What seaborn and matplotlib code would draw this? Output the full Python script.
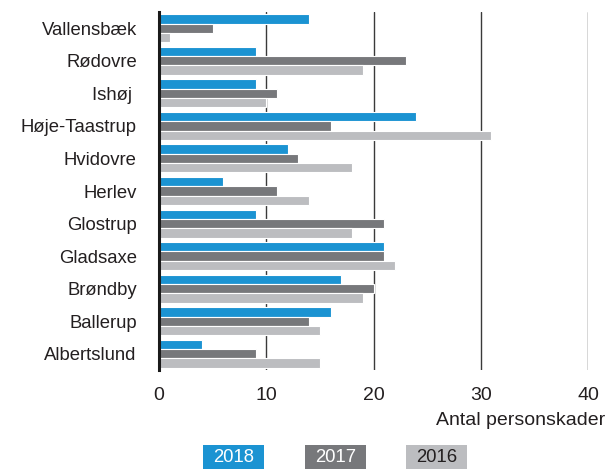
import matplotlib
matplotlib.use("Agg")
import matplotlib.pyplot as plt
import seaborn as sns
import pandas as pd
from matplotlib.patches import Rectangle

municipalities = ["Vallensbæk", "Rødovre", "Ishøj ", "Høje-Taastrup", "Hvidovre", "Herlev",
                  "Glostrup", "Gladsaxe", "Brøndby", "Ballerup", "Albertslund"]
years = ["2018", "2017", "2016"]
v2018 = [14, 9, 9, 24, 12, 6, 9, 21, 17, 16, 4]
v2017 = [5, 23, 11, 16, 13, 11, 21, 21, 20, 14, 9]
v2016 = [1, 19, 10, 31, 18, 14, 18, 22, 19, 15, 15]
colors = ["#1b93d2", "#77787b", "#bcbdc0"]
x_ticks = [0, 10, 20, 30, 40]
x_label = "Antal personskader"

rows = []
for yr, vals in zip(years, [v2018, v2017, v2016]):
    for m, v in zip(municipalities, vals):
        rows.append({"Kommune": m, "År": yr, "Antal": v})
df = pd.DataFrame(rows)

sns.set_theme(style="white")
plt.rcParams["font.family"] = ["Liberation Sans", "DejaVu Sans"]
text_color = "#231f20"

fig = plt.figure(figsize=(6.14, 4.69), dpi=100)
ax = fig.add_axes([159/614, 1 - 370/469, (588 - 159)/614, (370 - 12)/469])

sns.barplot(data=df, y="Kommune", x="Antal", hue="År", order=municipalities,
            hue_order=years, palette=colors, saturation=1, orient="h", width=0.86,
            edgecolor="white", linewidth=0.8, ax=ax, legend=False, zorder=3)

ax.set_xlim(0, 40)
ax.set_ylim(10.5, -0.5)
ax.set_xticks(x_ticks)
ax.set_xticklabels([str(t) for t in x_ticks])
ax.grid(axis="x", color="#3a3a3a", linewidth=1.0, zorder=0)
ax.grid(axis="y", visible=False)
ax.set_axisbelow(True)
for s in ["top", "right", "bottom"]:
    ax.spines[s].set_visible(False)
ax.spines["left"].set_color("#1a1a1a")
ax.spines["left"].set_linewidth(2.2)
ax.spines["left"].set_zorder(5)
ax.tick_params(axis="x", length=0, pad=12, labelsize=14, labelcolor=text_color)
ax.tick_params(axis="y", length=0, pad=16, labelsize=13.3, labelcolor=text_color)
ax.set_xlabel("")
ax.set_ylabel("")

fig.text(605/614, 1 - 420/469, x_label, ha="right", va="center", fontsize=14, color=text_color)

boxes = [(203, 264, "white"), (305, 366, "white"), (406, 467, text_color)]
for (x0, x1, tc), yr, c in zip(boxes, years, colors):
    fig.add_artist(Rectangle((x0/614, 0), (x1 - x0)/614, 24/469, transform=fig.transFigure,
                             facecolor=c, edgecolor="none"))
    fig.text((x0 + x1)/2/614, 12/469, yr, ha="center", va="center", fontsize=13.3, color=tc)

fig.savefig("out.png", dpi=100)
